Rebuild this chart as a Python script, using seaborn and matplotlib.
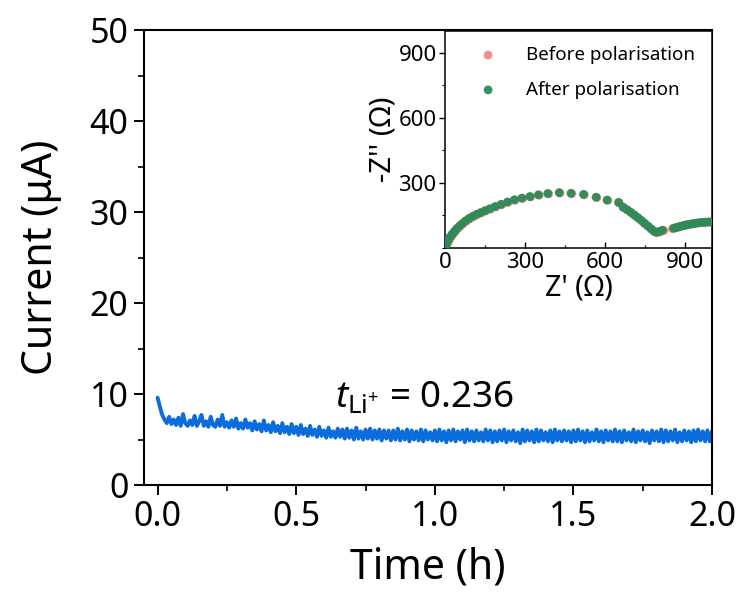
import numpy as np
import matplotlib
matplotlib.use("Agg")
import matplotlib.pyplot as plt
from matplotlib.ticker import MultipleLocator
import seaborn as sns

current = [
    9.6, 8.6, 7.7, 7.2, 6.8, 7.5, 6.7, 7.2, 6.6, 7.4, 6.5, 7.8, 6.8, 6.5, 7.1, 6.6, 7.6, 6.5, 7.0, 7.7,
    6.5, 7.0, 6.4, 7.5, 6.6, 6.4, 7.2, 6.5, 7.7, 6.4, 6.9, 6.3, 7.1, 6.4, 7.3, 6.2, 6.8, 6.2, 7.2, 6.3,
    6.8, 6.0, 7.0, 6.1, 6.7, 5.9, 7.1, 6.0, 6.6, 5.8, 6.9, 5.9, 6.5, 5.7, 6.8, 5.8, 6.4, 5.6, 6.7, 5.7,
    6.4, 5.5, 6.6, 5.6, 6.2, 5.4, 6.5, 5.5, 6.1, 5.3, 6.4, 5.4, 6.0, 5.2, 6.3, 5.3, 5.9, 5.2, 6.2, 5.3,
    6.1, 5.1, 6.2, 5.2, 6.0, 5.0, 6.3, 5.1, 5.9, 5.0, 6.1, 5.1, 6.2, 5.0, 6.0, 5.1, 6.1, 4.9, 6.0, 5.1,
    6.0, 4.9, 6.0, 5.0, 6.2, 4.9, 5.9, 5.0, 6.1, 4.8, 6.0, 5.0, 5.9, 4.9, 6.1, 4.8, 6.0, 5.0, 5.8, 4.9,
    6.0, 4.8, 6.1, 4.9, 5.9, 4.7, 6.0, 4.9, 6.1, 4.8, 5.9, 5.0, 6.0, 4.7, 6.1, 4.9, 5.9, 4.8, 6.0, 4.9,
    5.8, 4.8, 6.1, 4.9, 6.0, 4.7, 5.9, 4.8, 6.0, 4.9, 6.1, 4.7, 5.9, 4.9, 6.0, 4.8, 5.8, 4.6, 6.1, 4.8,
    6.0, 4.9, 5.9, 4.7, 6.1, 4.8, 6.0, 4.9, 5.8, 4.8, 6.0, 4.7, 6.1, 4.9, 5.9, 4.8, 6.0, 4.9, 5.9, 4.7,
    6.0, 4.8, 6.1, 4.9, 5.9, 4.7, 6.0, 4.8, 5.8, 4.9, 6.1, 4.8, 5.9, 4.7, 6.0, 4.9, 5.9, 4.8, 6.1, 4.8,
    5.9, 4.7, 6.0, 4.9, 5.8, 4.8, 6.1, 4.7, 5.9, 4.9, 6.0, 4.8, 5.8, 4.6, 6.0, 4.9, 5.9, 4.8, 6.1, 4.7,
    6.0, 4.8, 5.9, 4.9, 6.1, 4.7, 5.8, 4.8, 6.0, 4.9, 5.9, 4.7, 6.0, 4.8, 6.1, 4.9, 5.9, 4.8, 6.0, 4.8,
    5.9,
]
time_h = np.linspace(0, 2, len(current))

# impedance spectra (inset)
after_re = [2, 5, 9, 14, 20, 27, 35, 44, 54, 65, 77, 90, 104, 118, 133, 150, 168, 188, 210, 234,
            260, 288, 318, 350, 385, 428, 472, 519, 566, 607, 650, 667, 682, 696, 709, 722, 735, 747,
            760, 772, 782, 791, 803, 815, 857, 866, 875, 884, 893, 903, 913, 923, 933, 943, 954, 965,
            976, 988, 1000]
after_im = [8, 18, 28, 40, 52, 64, 76, 89, 101, 113, 125, 136, 146, 155, 163, 172, 181, 191, 201, 212,
            222, 230, 237, 245, 251, 255, 252, 247, 234, 221, 210, 188, 176, 164, 152, 140, 127, 114,
            101, 88, 78, 72, 76, 82, 91, 94, 97, 100, 103, 106, 109, 111, 113, 115, 117, 118,
            119, 120, 121]
before_re = [4, 8, 12, 17, 23, 30, 38, 47, 57, 68, 80, 93, 107, 121, 136, 153, 171, 191, 213, 237,
             263, 291, 321, 353, 388, 431, 475, 522, 569, 610, 653, 670, 685, 699, 712, 725, 738, 750,
             763, 775, 785, 795, 807, 820, 852, 861, 870, 879, 888, 898, 908, 918, 928, 938, 949, 960,
             971, 983, 995]
before_im = [6, 16, 26, 38, 50, 62, 74, 87, 99, 111, 123, 134, 144, 153, 161, 170, 179, 189, 199, 210,
             220, 228, 235, 243, 249, 253, 250, 245, 232, 219, 208, 186, 174, 162, 150, 138, 125, 112,
             99, 86, 76, 70, 74, 80, 89, 92, 95, 98, 101, 104, 107, 109, 111, 113, 115, 116,
             117, 118, 119]

sns.set_style("ticks")
plt.rcParams["font.family"] = ["Noto Sans", "DejaVu Sans"]
plt.rcParams["mathtext.fontset"] = "custom"
plt.rcParams["mathtext.rm"] = "Noto Sans"
plt.rcParams["mathtext.it"] = "Noto Sans:italic"
for key in ["text.color", "axes.labelcolor", "xtick.color", "ytick.color", "axes.edgecolor"]:
    plt.rcParams[key] = "black"

fig = plt.figure(figsize=(7.42, 5.92), dpi=100)
ax = fig.add_axes([0.1937, 0.1807, 0.7659, 0.7686])

sns.lineplot(x=time_h, y=current, ax=ax, color="#0b6ddb", linewidth=2.8)
ax.set_xlim(-0.05, 2.0)
ax.set_ylim(0, 50)
ax.xaxis.set_major_locator(MultipleLocator(0.5))
ax.xaxis.set_minor_locator(MultipleLocator(0.25))
ax.yaxis.set_major_locator(MultipleLocator(10))
ax.yaxis.set_minor_locator(MultipleLocator(5))
ax.tick_params(which="major", direction="out", length=7, width=1.4, labelsize=24.5, pad=4)
ax.tick_params(which="minor", direction="out", length=4, width=1.2)
for sp in ax.spines.values():
    sp.set_linewidth(1.5)
ax.set_xlabel("Time (h)", fontsize=29.5, labelpad=9)
ax.set_ylabel("Current (μA)", fontsize=29.5, labelpad=20)
ax.text(0.64, 8.55, r"$t_{\mathrm{Li}^{+}}$ = 0.236", fontsize=26.5, va="baseline")

# inset
ins = fig.add_axes([0.5997, 0.5811, 0.3598, 0.3666])
sns.scatterplot(x=before_re, y=before_im, ax=ins, color="#f28e8e", s=40, edgecolor="none",
                label="Before polarisation", zorder=2)
sns.scatterplot(x=after_re, y=after_im, ax=ins, color="#2e8b57", s=40, edgecolor="none",
                alpha=0.95, label="After polarisation", zorder=3)
ins.set_xlim(0, 1000)
ins.set_ylim(0, 1000)
ins.set_xticks([0, 300, 600, 900])
ins.set_yticks([300, 600, 900])
ins.xaxis.set_minor_locator(MultipleLocator(150))
ins.yaxis.set_minor_locator(MultipleLocator(150))
ins.tick_params(axis="y", which="major", direction="out", length=4, width=1, labelsize=16, pad=2)
ins.tick_params(axis="y", which="minor", direction="out", length=2.5, width=0.8)
ins.tick_params(axis="x", which="major", direction="in", length=4, width=1, labelsize=16, pad=3)
ins.tick_params(axis="x", which="minor", direction="in", length=2.5, width=0.8)
for sp in ins.spines.values():
    sp.set_linewidth(1.1)
ins.set_xlabel("Z' (Ω)", fontsize=20.5, labelpad=0)
ins.set_ylabel("-Z'' (Ω)", fontsize=21, labelpad=1)
ins.legend(loc="upper left", frameon=False, fontsize=13.5, handletextpad=1.0,
           borderaxespad=0.4, bbox_to_anchor=(0.035, 1.0), labelspacing=0.9)

fig.savefig("out.png", dpi=100)
